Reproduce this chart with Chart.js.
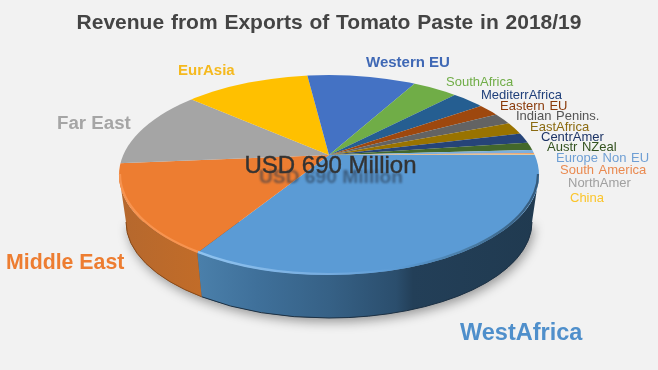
<!DOCTYPE html>
<html>
<head>
<meta charset="utf-8">
<title>Revenue from Exports of Tomato Paste</title>
<script src="https://cdn.jsdelivr.net/npm/chart.js@4"></script>
<style>
	html, body { margin: 0; padding: 0; background: #f2f2f2; }
	canvas { display: block; }
</style>
</head>
<body>
<canvas id="pieChart" width="658" height="370"></canvas>
<script>
const chartTitle = 'Revenue from Exports of Tomato Paste in 2018/19';
const centreText = 'USD 690 Million';

// Values in USD million
const regions = ['WestAfrica', 'Middle East', 'Far East', 'EurAsia', 'Western EU', 'SouthAfrica', 'MediterrAfrica', 'Eastern EU', 'Indian Penins.', 'EastAfrica', 'CentrAmer', 'Austr NZeal', 'Europe Non EU', 'South America', 'NorthAmer', 'China'];
const revenue = [237.6, 98.9, 83.2, 83.0, 74.2, 29.5, 20.7, 13.6, 12.3, 13.0, 10.6, 8.1, 3.2, 1.4, 0.6, 0.2];
const sliceColors = ['#5b9bd5', '#ed7d31', '#a5a5a5', '#ffc000', '#4472c4', '#70ad47', '#255e91', '#9e480e', '#636363', '#997300', '#264478', '#43682b', '#7cafdd', '#f1975a', '#b7b7b7', '#ffcd33'];

// Label placement: left x, middle y, font
const labelX = [460, 6, 57, 178, 366, 446, 481, 500, 516, 530, 541, 547, 556, 560, 568, 570];
const labelY = [334, 263, 124, 71, 63, 82, 95, 106, 116, 127, 137, 147, 158, 170, 183, 198];
const labelFont = ['bold 23.5px', 'bold 21.3px', 'bold 18.7px', 'bold 15px', 'bold 15px', '13px', '13px', '13px', '13px', '13px', '13px', '13px', '13px', '13px', '13px', '13px'];
const labelColors = ['#4f8fcb', '#ed7d31', '#a5a5a5', '#f5b91e', '#3f68b5', '#70ad47', '#1f3f7a', '#8a3a0a', '#555555', '#8a6a10', '#1d3466', '#33521f', '#6f9fd4', '#ea8a50', '#a0a0a0', '#fbc52b'];

// Tilted disc as seen in the picture
const apex = { x: 329, y: 155 };
const topDisc = { x: 329, y: 175, rx: 210, ry: 100 };
const baseDisc = { x: 329, y: 222, rx: 203, ry: 96 };
const reachX = 270, reachY = 135;

function rimParam(angle) {
	const dx = Math.cos(angle) * reachX, dy = Math.sin(angle) * reachY;
	const ox = (apex.x - topDisc.x) / topDisc.rx, oy = (apex.y - topDisc.y) / topDisc.ry;
	const ux = dx / topDisc.rx, uy = dy / topDisc.ry;
	const a = ux * ux + uy * uy, b = 2 * (ox * ux + oy * uy), c = ox * ox + oy * oy - 1;
	const s = (-b + Math.sqrt(b * b - 4 * a * c)) / (2 * a);
	return Math.atan2(oy + s * uy, ox + s * ux);
}

function frontRange(arc) {
	let t0 = rimParam(arc.startAngle), t1 = rimParam(arc.endAngle);
	if (t0 < -Math.PI / 2) t0 += Math.PI * 2;
	if (t1 < -Math.PI / 2) t1 += Math.PI * 2;
	if (t1 < t0) t1 += Math.PI * 2;
	t0 = Math.max(t0, 0);
	t1 = Math.min(t1, Math.PI);
	return t0 < t1 ? [t0, t1] : null;
}

function wallPath(ctx, t0, t1) {
	ctx.beginPath();
	ctx.ellipse(topDisc.x, topDisc.y, topDisc.rx, topDisc.ry, 0, t0, t1);
	ctx.ellipse(baseDisc.x, baseDisc.y, baseDisc.rx, baseDisc.ry, 0, t1, t0, true);
	ctx.closePath();
}

const disc3d = {
	id: 'disc3d',
	beforeDraw(chart) {
		chart.ctx.wordSpacing = '1px';
	},
	beforeDatasetDraw(chart) {
		const ctx = chart.ctx;
		const arcs = chart.getDatasetMeta(0).data;

		// soft shadow under the disc
		ctx.save();
		ctx.shadowColor = 'rgba(0,0,0,0.38)';
		ctx.shadowBlur = 11;
		ctx.shadowOffsetX = 2;
		ctx.shadowOffsetY = 4;
		ctx.fillStyle = '#555';
		ctx.beginPath();
		ctx.ellipse(baseDisc.x, baseDisc.y, baseDisc.rx, baseDisc.ry, 0, 0, Math.PI);
		ctx.fill();
		ctx.restore();

		// side wall
		arcs.forEach((arc, i) => {
			const range = frontRange(arc);
			if (!range) return;
			const g = ctx.createLinearGradient(119, 0, 539, 0);
			if (i === 0) {
				g.addColorStop(0.19, '#4a7faa');
				g.addColorStop(0.33, '#3f709a');
				g.addColorStop(0.5, '#366186');
				g.addColorStop(0.66, '#2b4e6d');
				g.addColorStop(0.7, '#233f58');
				g.addColorStop(1, '#203a50');
			} else {
				g.addColorStop(0, '#b5682e');
				g.addColorStop(0.2, '#c26c28');
			}
			ctx.fillStyle = g;
			wallPath(ctx, range[0], range[1]);
			ctx.fill();

			// thin dark line along the base
			ctx.strokeStyle = i === 0 ? '#1c3145' : '#8a4a18';
			ctx.lineWidth = 1;
			ctx.beginPath();
			ctx.ellipse(baseDisc.x, baseDisc.y, baseDisc.rx, baseDisc.ry, 0, range[0], range[1]);
			ctx.stroke();
		});

		// top face: pie from the library, squashed and clipped to the rim
		const arc0 = arcs[0];
		const r = arc0.outerRadius;
		ctx.save();
		ctx.beginPath();
		ctx.ellipse(topDisc.x, topDisc.y, topDisc.rx, topDisc.ry, 0, 0, Math.PI * 2);
		ctx.clip();
		ctx.translate(apex.x, apex.y);
		ctx.scale(reachX / r, reachY / r);
		ctx.translate(-arc0.x, -arc0.y);
	},
	afterDatasetDraw(chart) {
		const ctx = chart.ctx;
		ctx.restore();

		// soft bevel on the front rim, fading out towards the dark side
		const blueRim = ctx.createLinearGradient(119, 0, 539, 0);
		blueRim.addColorStop(0.19, '#8fc3f0');
		blueRim.addColorStop(0.5, '#76acdf');
		blueRim.addColorStop(0.66, '#5b9bd5');
		blueRim.addColorStop(0.85, '#47789f');
		blueRim.addColorStop(1, '#34597a');
		const rimColors = [blueRim, '#f79450'];
		ctx.save();
		ctx.filter = 'blur(0.7px)';
		chart.getDatasetMeta(0).data.forEach((arc, i) => {
			const range = frontRange(arc);
			if (!range) return;
			ctx.strokeStyle = rimColors[i] || sliceColors[i];
			ctx.lineWidth = 2.2;
			ctx.beginPath();
			ctx.ellipse(topDisc.x, topDisc.y - 1, topDisc.rx - 1, topDisc.ry, 0, range[0], range[1]);
			ctx.stroke();
		});
		ctx.restore();
	},
	afterDraw(chart) {
		const ctx = chart.ctx;
		ctx.save();
		ctx.textBaseline = 'middle';
		ctx.textAlign = 'left';
		regions.forEach((name, i) => {
			ctx.font = labelFont[i] + ' "Liberation Sans", Arial, sans-serif';
			ctx.wordSpacing = i > 4 ? '1px' : '0px';
			ctx.fillStyle = labelColors[i];
			ctx.fillText(name, labelX[i], labelY[i]);
		});
		ctx.wordSpacing = '0px';

		// centre text and its squashed shadow behind it
		ctx.textAlign = 'center';
		ctx.textBaseline = 'alphabetic';
		ctx.save();
		ctx.font = 'bold 22px "Liberation Sans", Arial, sans-serif';
		const w = ctx.measureText(centreText).width;
		ctx.translate(331, 183);
		ctx.scale(144 / w, 0.8);
		ctx.filter = 'blur(0.8px)';
		ctx.fillStyle = 'rgba(40,55,75,0.6)';
		ctx.fillText(centreText, 0, 0);
		ctx.restore();
		ctx.font = '24px "Liberation Sans", Arial, sans-serif';
		ctx.fillStyle = '#333333';
		ctx.strokeStyle = '#333333';
		ctx.lineWidth = 0.4;
		ctx.fillText(centreText, 330.5, 173);
		ctx.strokeText(centreText, 330.5, 173);
		ctx.restore();
	}
};

new Chart(document.getElementById('pieChart').getContext('2d'), {
	type: 'pie',
	data: {
		labels: regions,
		datasets: [{
			data: revenue,
			backgroundColor: sliceColors,
			borderWidth: 0,
			clip: false
		}]
	},
	options: {
		responsive: false,
		animation: false,
		rotation: 90,
		plugins: {
			legend: { display: false },
			tooltip: { enabled: false },
			title: {
				display: true,
				text: chartTitle,
				color: '#444444',
				font: { family: '"Liberation Sans", Arial, sans-serif', size: 21, weight: 'bold' },
				padding: { top: 11, bottom: 8 }
			}
		}
	},
	plugins: [disc3d]
});
</script>
</body>
</html>
